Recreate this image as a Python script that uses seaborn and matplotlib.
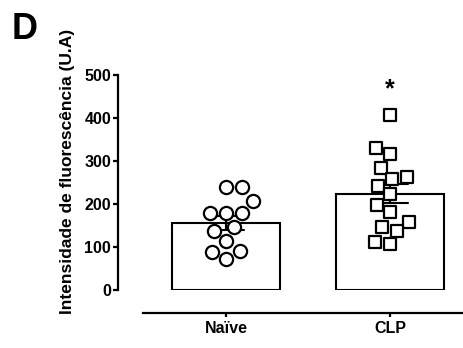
import matplotlib
matplotlib.use('Agg')
import matplotlib.pyplot as plt
import seaborn as sns
import pandas as pd

# values (fluorescence intensity, a.u.)
groups = ['Naïve', 'CLP']
naive_vals = [240, 240, 208, 180, 180, 180, 146, 138, 114, 91, 88, 72]
clp_vals = [407, 330, 316, 284, 262, 258, 243, 223, 198, 182, 159, 147, 137, 111, 106]
yticks = [0, 100, 200, 300, 400, 500]
ylabel = 'Intensidade de fluorescência (U.A)'
panel = 'D'
star = '*'

df = pd.DataFrame({
    'grupo': ['Naïve'] * len(naive_vals) + ['CLP'] * len(clp_vals),
    'valor': naive_vals + clp_vals,
})

sns.set_style('ticks', {'axes.edgecolor': 'black', 'text.color': 'black',
                        'xtick.color': 'black', 'ytick.color': 'black',
                        'axes.labelcolor': 'black'})
plt.rcParams['font.family'] = ['Liberation Sans', 'DejaVu Sans']
plt.rcParams['font.weight'] = 'bold'

fig = plt.figure(figsize=(4.64, 3.48), dpi=100)
ax = fig.add_axes([0.2543, 0.1667, 0.7457, 0.6178])

sns.barplot(data=df, x='grupo', y='valor', order=groups, errorbar='se',
            capsize=0.22, width=0.66, color='white', edgecolor='black',
            linewidth=1.5, err_kws={'color': 'black', 'linewidth': 1.5}, ax=ax)

sns.swarmplot(data=df[df['grupo'] == 'Naïve'], x='grupo', y='valor', order=groups,
              marker='o', size=9.5, color='white', edgecolor='black', linewidth=1.6, ax=ax)
sns.swarmplot(data=df[df['grupo'] == 'CLP'], x='grupo', y='valor', order=groups,
              marker='s', size=9, color='white', edgecolor='black', linewidth=1.6, ax=ax)

ax.text(1, max(clp_vals) + 60, star, ha='center', va='center',
        fontsize=18, fontweight='bold', color='black')

ax.set_xlim(-0.66, 1.45)
ax.set_ylim(0, 500)
ax.set_yticks(yticks)
ax.set_xlabel('')
ax.set_ylabel(ylabel, fontsize=12.5, fontweight='bold', color='black')
ax.yaxis.set_label_coords(-0.125, 0.55)

for side in ['top', 'right']:
    ax.spines[side].set_visible(False)
ax.spines['left'].set_linewidth(1.6)
ax.spines['bottom'].set_linewidth(1.6)
ax.spines['left'].set_bounds(0, 500)
ax.spines['bottom'].set_position(('outward', 16.5))
ax.spines['bottom'].set_bounds(-0.51, 1.45)

ax.tick_params(axis='y', length=3.5, width=1.6, pad=1.5, labelsize=11.5, colors='black')
ax.tick_params(axis='x', length=3, width=1.6, pad=3, labelsize=11.5, colors='black')
for lbl in ax.get_xticklabels() + ax.get_yticklabels():
    lbl.set_fontweight('bold')

fig.text(0.026, 0.914, panel, fontsize=26, fontweight='bold', ha='left', va='center',
         color='black')

fig.savefig('out.png', dpi=100)
